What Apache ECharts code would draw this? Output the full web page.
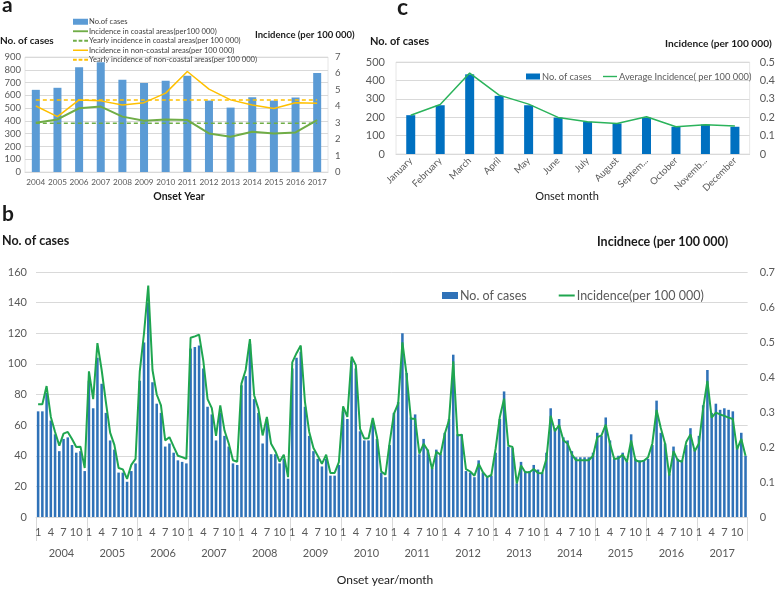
<!DOCTYPE html>
<html>
<head>
<meta charset="utf-8">
<title>Cases and incidence</title>
<script src="https://cdn.jsdelivr.net/npm/echarts@6/dist/echarts.min.js"></script>
<style>
html, body { margin:0; padding:0; background:#fff; }
#main { width:778px; height:599px; }
</style>
</head>
<body>
<div id="main"></div>
<script>
// ---- panel a : yearly ----
var yearsA = ['2004','2005','2006','2007','2008','2009','2010','2011','2012','2013','2014','2015','2016','2017'];
var casesA = [643, 659, 819, 858, 722, 696, 714, 753, 559, 504, 585, 559, 583, 774];
var coastal = [3.00, 3.20, 3.88, 3.98, 3.37, 3.12, 3.20, 3.16, 2.35, 2.14, 2.45, 2.35, 2.41, 3.16];
var yearlyCoastal = [2.96, 2.96, 2.96, 2.96, 2.96, 2.96, 2.96, 2.96, 2.96, 2.96, 2.96, 2.96, 2.96, 2.96];
var nonCoastal = [4.02, 3.37, 4.39, 4.33, 4.08, 4.22, 4.80, 6.12, 5.04, 4.39, 4.08, 3.86, 4.22, 4.18];
var yearlyNonCoastal = [4.39, 4.39, 4.39, 4.39, 4.39, 4.39, 4.39, 4.39, 4.39, 4.39, 4.39, 4.39, 4.39, 4.39];

// ---- panel c : by month ----
var monthsC = ['January','February','March','April','May','June','July','August','Septem...','October','Novemb...','December'];
var casesC = [211, 265, 433, 316, 265, 198, 175, 166, 198, 148, 160, 148];
var incC = [0.211, 0.269, 0.440, 0.320, 0.271, 0.199, 0.175, 0.166, 0.202, 0.148, 0.159, 0.152];

// ---- panel b : year/month ----
var monthNums = ['1','2','3','4','5','6','7','8','9','10','11','12'];
var casesB = [
  69, 69, 81, 63, 54, 43, 51, 52, 47, 42, 43, 30,      // 2004
  89, 71, 104, 87, 68, 50, 44, 29, 29, 23, 30, 35,     // 2005
  89, 114, 140, 88, 74, 68, 46, 48, 42, 37, 36, 35,    // 2006
  110, 111, 112, 97, 72, 67, 50, 68, 53, 46, 35, 34,   // 2007
  86, 92, 113, 77, 68, 48, 64, 41, 41, 35, 38, 25,     // 2008
  97, 104, 108, 72, 53, 43, 38, 33, 38, 27, 27, 34,    // 2009
  69, 64, 102, 97, 56, 50, 50, 63, 51, 29, 26, 47,     // 2010
  68, 75, 120, 94, 65, 67, 41, 51, 44, 32, 44, 41,     // 2011
  55, 64, 106, 54, 54, 30, 29, 26, 37, 29, 26, 27,     // 2012
  42, 64, 82, 46, 45, 22, 36, 30, 30, 34, 31, 29,      // 2013
  42, 71, 58, 64, 52, 50, 43, 39, 39, 39, 39, 42,      // 2014
  55, 53, 65, 50, 38, 40, 42, 36, 54, 38, 37, 37,      // 2015
  38, 47, 76, 55, 48, 28, 46, 38, 37, 47, 58, 44,      // 2016
  53, 73, 96, 68, 74, 70, 71, 70, 69, 46, 55, 40       // 2017
];
var incB = [
  .322, .322, .374, .286, .243, .204, .238, .243, .223, .200, .201, .140,
  .416, .337, .497, .420, .328, .241, .206, .140, .136, .109, .149, .166,
  .416, .525, .661, .420, .350, .319, .219, .228, .201, .175, .171, .166,
  .512, .516, .521, .446, .337, .311, .232, .319, .247, .210, .162, .158,
  .381, .420, .508, .348, .309, .233, .286, .209, .188, .158, .178, .114,
  .442, .468, .490, .328, .243, .197, .175, .152, .178, .126, .126, .157,
  .316, .286, .458, .434, .252, .224, .225, .283, .228, .130, .121, .214,
  .295, .324, .499, .405, .281, .281, .181, .209, .190, .137, .186, .178,
  .238, .276, .445, .233, .235, .137, .130, .118, .152, .128, .114, .120,
  .195, .286, .338, .204, .200, .096, .147, .128, .128, .137, .126, .125,
  .166, .289, .245, .263, .219, .210, .179, .162, .162, .162, .162, .175,
  .228, .233, .264, .209, .166, .168, .178, .157, .219, .162, .158, .161,
  .171, .210, .306, .254, .210, .118, .188, .162, .158, .214, .236, .188,
  .210, .311, .389, .284, .298, .293, .289, .284, .280, .193, .223, .175
];

var monthCats = [];
yearsA.forEach(function (y) {
  monthNums.forEach(function (m) { monthCats.push(m); });
});

var FONT = 'Lato, "Open Sans", sans-serif';
var grey = '#595959';
var gridCol = '#d9d9d9';

// legend icons drawn as thin bars (solid / dashed)
var solidIcon = 'path://M0,0h16v2h-16z';
var dashIcon = 'path://M0,0h4v2h-4zM6,0h4v2h-4zM12,0h4v2h-4z';
var thinIcon = 'path://M0,0h16v1.6h-16z';

var myChart = echarts.init(document.getElementById('main'));

function txt(x, y, s, size, weight, align) {
  return {
    type: 'text', x: x, y: y, silent: true,
    style: {
      text: s, fill: '#1a1a1a', fontFamily: FONT, fontSize: size,
      fontWeight: weight || 'normal', align: align || 'left', verticalAlign: 'middle'
    }
  };
}

var option = {
  animation: false,
  textStyle: { fontFamily: FONT },
  grid: [
    { left: 25, top: 57, width: 303, height: 115, show: true, borderColor: '#e6e6e6', borderWidth: 1 },
    { left: 396, top: 62, width: 357, height: 92, show: true, borderColor: '#e6e6e6', borderWidth: 1 },
    { left: 36, top: 272, width: 715, height: 245 }
  ],
  legend: [
    {
      orient: 'vertical', left: 68, top: 12.5, itemGap: 1, itemWidth: 15, itemHeight: 6,
      textStyle: { fontSize: 7.6, lineHeight: 8.5, color: '#404040', padding: [0, 0, 0, -4] },
      data: [
        { name: 'No.of cases', icon: 'rect' },
        { name: 'Incidence in coastal areas(per100 000)', icon: solidIcon },
        { name: 'Yearly incidence in coastal areas(per 100 000)', icon: dashIcon },
        { name: 'Incidence in non-coastal areas(per 100 000)', icon: thinIcon },
        { name: 'Yearly incidence of non-coastal areas(per 100 000)', icon: dashIcon }
      ]
    },
    {
      left: 521, top: 67, itemGap: 9, itemWidth: 14, itemHeight: 6,
      textStyle: { fontSize: 9.3, color: grey, padding: [0, 0, 0, -3] },
      data: [{ name: 'No. of cases ', icon: 'rect' }, { name: 'Average Incidence( per 100 000)', icon: thinIcon }]
    },
    {
      left: 437, top: 284, itemGap: 32, itemWidth: 16, itemHeight: 7,
      textStyle: { fontSize: 12.5, color: grey, padding: [0, 0, 0, -3] },
      data: [{ name: 'No. of cases', icon: 'rect' }, { name: 'Incidence(per 100 000)', icon: solidIcon }]
    }
  ],
  xAxis: [
    {
      gridIndex: 0, type: 'category', data: yearsA,
      axisLine: { lineStyle: { color: gridCol } }, axisTick: { show: false },
      axisLabel: { fontSize: 8.2, color: grey, margin: 6, interval: 0 }
    },
    {
      gridIndex: 1, type: 'category', data: monthsC,
      axisLine: { lineStyle: { color: gridCol } }, axisTick: { show: false },
      axisLabel: { fontSize: 9.5, color: grey, rotate: 45, margin: 5, interval: 0 }
    },
    {
      gridIndex: 2, type: 'category', data: monthCats,
      axisLine: { lineStyle: { color: gridCol } },
      axisTick: { show: true, length: 24, lineStyle: { color: gridCol },
        interval: function (i) { return i % 12 === 0; } },
      axisLabel: { fontSize: 11, color: grey, margin: 10,
        interval: function (i) { return i % 3 === 0; } }
    },
    {
      gridIndex: 2, type: 'category', data: yearsA, position: 'bottom', offset: 24,
      axisLine: { show: true, lineStyle: { color: 'rgba(0,0,0,0)' } },
      axisTick: { show: true, length: 24, lineStyle: { color: gridCol } },
      axisLabel: { fontSize: 11, color: grey, margin: 7 }
    }
  ],
  yAxis: [
    {
      gridIndex: 0, type: 'value', min: 0, max: 900, interval: 100,
      axisLabel: { fontSize: 9.5, color: grey, margin: 4 },
      splitLine: { lineStyle: { color: gridCol } }
    },
    {
      gridIndex: 0, type: 'value', min: 0, max: 7, interval: 1, position: 'right',
      axisLabel: { fontSize: 9.5, color: grey, margin: 7 }, splitLine: { show: false }
    },
    {
      gridIndex: 1, type: 'value', min: 0, max: 500, interval: 100,
      axisLabel: { fontSize: 11, color: grey, margin: 11 },
      splitLine: { lineStyle: { color: gridCol } }
    },
    {
      gridIndex: 1, type: 'value', min: 0, max: 0.5, interval: 0.1, position: 'right',
      axisLabel: { fontSize: 11, color: grey, margin: 10 }, splitLine: { show: false }
    },
    {
      gridIndex: 2, type: 'value', min: 0, max: 160, interval: 20,
      axisLabel: { fontSize: 11, color: grey, margin: 9 },
      splitLine: { lineStyle: { color: gridCol } }
    },
    {
      gridIndex: 2, type: 'value', min: 0, max: 0.7, interval: 0.1, position: 'right',
      axisLabel: { fontSize: 11, color: grey, margin: 12 }, splitLine: { show: false }
    }
  ],
  series: [
    // panel a
    { name: 'No.of cases', type: 'bar', xAxisIndex: 0, yAxisIndex: 0, data: casesA,
      barWidth: 8, itemStyle: { color: '#5B9BD5' } },
    { name: 'Incidence in coastal areas(per100 000)', type: 'line', xAxisIndex: 0, yAxisIndex: 1,
      data: coastal, symbol: 'none', lineStyle: { color: '#70AD47', width: 2 }, itemStyle: { color: '#70AD47' } },
    { name: 'Yearly incidence in coastal areas(per 100 000)', type: 'line', xAxisIndex: 0, yAxisIndex: 1,
      data: yearlyCoastal, symbol: 'none', lineStyle: { color: '#70AD47', width: 1.5, type: [4, 3] }, itemStyle: { color: '#70AD47' } },
    { name: 'Incidence in non-coastal areas(per 100 000)', type: 'line', xAxisIndex: 0, yAxisIndex: 1,
      data: nonCoastal, symbol: 'none', lineStyle: { color: '#FFC000', width: 1.5 }, itemStyle: { color: '#FFC000' } },
    { name: 'Yearly incidence of non-coastal areas(per 100 000)', type: 'line', xAxisIndex: 0, yAxisIndex: 1,
      data: yearlyNonCoastal, symbol: 'none', lineStyle: { color: '#FFC000', width: 1.5, type: [4, 3] }, itemStyle: { color: '#FFC000' } },
    // panel c
    { name: 'No. of cases ', type: 'bar', xAxisIndex: 1, yAxisIndex: 2, data: casesC,
      barWidth: 9, itemStyle: { color: '#0070C0' } },
    { name: 'Average Incidence( per 100 000)', type: 'line', xAxisIndex: 1, yAxisIndex: 3,
      data: incC, symbol: 'none', lineStyle: { color: '#2BB35B', width: 1.5 }, itemStyle: { color: '#2BB35B' } },
    // panel b
    { name: 'No. of cases', type: 'bar', xAxisIndex: 2, yAxisIndex: 4, data: casesB,
      barCategoryGap: '40%', itemStyle: { color: '#2F72B8' } },
    { name: 'Incidence(per 100 000)', type: 'line', xAxisIndex: 2, yAxisIndex: 5,
      data: incB, symbol: 'none', lineStyle: { color: '#1FA64F', width: 2 }, itemStyle: { color: '#1FA64F' } }
  ],
  graphic: [
    txt(2, 5, 'a', 21, 'bold'),
    txt(0, 41, 'No. of cases', 10, 'bold'),
    txt(255, 35, 'Incidence (per 100 000)', 9.5, 'bold'),
    txt(179, 197, 'Onset Year', 10.5, 'bold', 'center'),
    txt(397, 8, 'c', 23, 'bold'),
    txt(370, 41, 'No. of cases', 11, 'bold'),
    txt(665, 44, 'Incidence (per 100 000)', 10.2, 'bold'),
    txt(567, 196, 'Onset month', 11, 'normal', 'center'),
    txt(2, 214, 'b', 21, 'bold'),
    txt(2, 241, 'No. of cases', 12.5, 'bold'),
    txt(597, 242, 'Incidnece (per 100 000)', 12.5, 'bold'),
    txt(385, 580, 'Onset year/month', 12, 'normal', 'center')
  ]
};

myChart.setOption(option);
</script>
</body>
</html>
